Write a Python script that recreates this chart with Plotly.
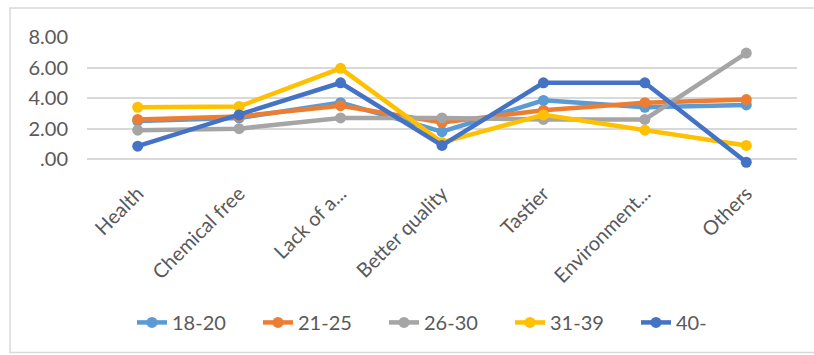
import plotly.graph_objects as go

# Reasons for buying, average score per age group
categories = ["Health", "Chemical free", "Lack of a...", "Better quality",
              "Tastier", "Environment...", "Others"]
age_18_20 = [2.5, 2.7, 3.7, 1.8, 3.85, 3.4, 3.55]
age_21_25 = [2.6, 2.8, 3.5, 2.4, 3.2, 3.7, 3.9]
age_26_30 = [1.9, 2.0, 2.7, 2.7, 2.6, 2.6, 6.95]
age_31_39 = [3.4, 3.45, 5.95, 1.1, 2.9, 1.9, 0.9]
age_40_up = [0.85, 2.9, 5.0, 0.9, 5.0, 5.0, -0.2]

series_names = ["18-20", "21-25", "26-30", "31-39", "40-"]
series_values = [age_18_20, age_21_25, age_26_30, age_31_39, age_40_up]
series_colors = ["#5B9BD5", "#ED7D31", "#A5A5A5", "#FFC000", "#4472C4"]

y_tick_vals = [0, 2, 4, 6, 8]
y_tick_text = [".00", "2.00", "4.00", "6.00", "8.00"]
Y_MIN, Y_MAX = -0.25, 8

W, H = 814, 355
# plot area in pixels: 8 sits at PT, 0 sits at P0
PL, PR, PT, P0 = 87, 797, 37, 159
PX_PER_UNIT = (P0 - PT) / Y_MAX
PB = P0 - Y_MIN * PX_PER_UNIT

fig = go.Figure()
for name, vals, col in zip(series_names, series_values, series_colors):
    fig.add_trace(go.Scatter(
        x=categories, y=vals, name=name, mode="lines+markers",
        line=dict(color=col, width=4.5),
        marker=dict(color=col, size=11),
        cliponaxis=False,
    ))


def px_x(px):
    return (px - PL) / (PR - PL)


def px_y(py):
    return (PB - py) / (PB - PT)


# outer chart frame
fig.add_shape(type="rect", xref="paper", yref="paper",
              x0=px_x(10), x1=px_x(818), y0=px_y(352), y1=px_y(8),
              line=dict(color="#D9D9D9", width=1.5), fillcolor="rgba(0,0,0,0)",
              layer="below")

text_color = "#595959"
fig.update_layout(
    width=W, height=H,
    margin=dict(l=PL, r=W - PR, t=PT, b=H - PB),
    paper_bgcolor="white", plot_bgcolor="white",
    font=dict(family="Lato", size=20, color=text_color),
    showlegend=True,
    legend=dict(orientation="h", x=px_x(132), y=px_y(322),
                xanchor="left", yanchor="middle",
                entrywidth=81, entrywidthmode="pixels",
                font=dict(size=20, color=text_color)),
    xaxis=dict(showgrid=False, showline=False, zeroline=False,
               tickangle=-45, ticks="", tickfont=dict(size=20, color=text_color),
               ticklabelstandoff=14, range=[-0.5, 6.5]),
    yaxis=dict(range=[Y_MIN, Y_MAX], tickvals=y_tick_vals, ticktext=y_tick_text,
               showgrid=True, gridcolor="#D9D9D9", gridwidth=1.5,
               zeroline=False, showline=False, ticks="",
               tickfont=dict(size=20, color=text_color), ticklabelstandoff=18),
)

fig.write_html("out.html")
